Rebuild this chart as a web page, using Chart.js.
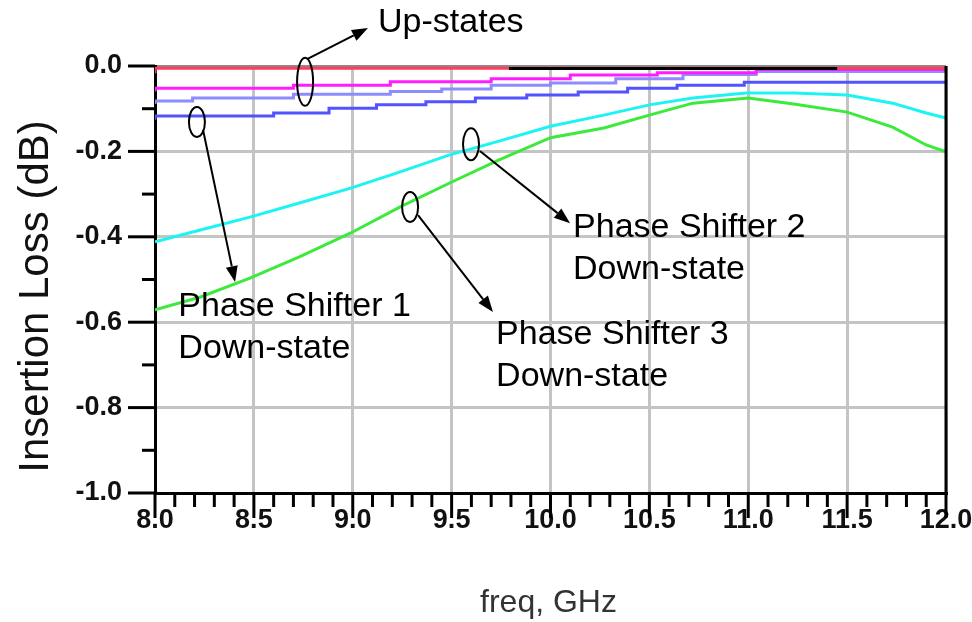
<!DOCTYPE html>
<html>
<head>
<meta charset="utf-8">
<script src="https://cdn.jsdelivr.net/npm/chart.js@4.4.1/dist/chart.umd.min.js"></script>
<style>
  html, body { margin: 0; padding: 0; background: #fff; }
  #wrap { width: 972px; height: 622px; }
</style>
</head>
<body>
<div id="wrap"><canvas id="chart" width="972" height="622"></canvas></div>
<script>
// frequency axis, GHz
const freqMin = 8.0;
const freqMax = 12.0;
// insertion loss axis, dB
const lossMin = -1.0;
const lossMax = 0.0;

// up-states (stepped traces): step start frequency + value
const redFreq = [8.0, 9.79, 12.0];
const redLoss = [-0.017, -0.005, -0.005];
const blackFreq = [9.79, 11.45];
const blackLoss = [-0.006, -0.006];
const magentaFreq = [8.0, 8.70, 9.19, 9.70, 10.10, 10.54, 11.04, 11.68, 12.0];
const magentaLoss = [-0.060, -0.052, -0.045, -0.037, -0.030, -0.021, -0.016, -0.008, -0.008];
const lavenderFreq = [8.0, 8.19, 8.70, 9.19, 9.45, 9.70, 10.0, 10.33, 10.67, 11.04, 11.48, 12.0];
const lavenderLoss = [-0.089, -0.082, -0.075, -0.066, -0.060, -0.054, -0.045, -0.040, -0.030, -0.020, -0.013, -0.013];
const blueFreq = [8.0, 8.60, 8.88, 9.12, 9.37, 9.62, 9.88, 10.14, 10.39, 10.64, 10.98, 11.31, 12.0];
const blueLoss = [-0.126, -0.117, -0.110, -0.099, -0.091, -0.084, -0.075, -0.068, -0.061, -0.052, -0.045, -0.038, -0.038];

// down-states
const cyanFreq = [8.0, 8.23, 8.48, 8.73, 8.99, 9.24, 9.49, 9.74, 10.0, 10.27, 10.5, 10.72, 10.99, 11.23, 11.5, 11.73, 11.9, 12.0];
const cyanLoss = [-0.412, -0.384, -0.354, -0.321, -0.286, -0.248, -0.208, -0.176, -0.141, -0.115, -0.091, -0.075, -0.063, -0.063, -0.068, -0.087, -0.110, -0.122];
const greenFreq = [8.0, 8.23, 8.48, 8.73, 8.99, 9.24, 9.49, 9.74, 10.0, 10.27, 10.5, 10.72, 11.0, 11.23, 11.5, 11.73, 11.9, 12.0];
const greenLoss = [-0.571, -0.541, -0.497, -0.447, -0.391, -0.330, -0.274, -0.220, -0.168, -0.145, -0.115, -0.087, -0.075, -0.089, -0.108, -0.143, -0.185, -0.201];

// annotations, in data units (freq, dB)
const notes = [
  { ellipse: [8.759, -0.037], ry: 24, from: [8.769, 0.016], to: [9.077, 0.089], text: ["Up-states"], at: [9.128, 0.080] },
  { ellipse: [8.212, -0.131], ry: 15, from: [8.243, -0.150], to: [8.405, -0.506], text: ["Phase Shifter 1", "Down-state"], at: [8.118, -0.585] },
  { ellipse: [9.598, -0.183], ry: 16, from: [9.643, -0.199], to: [10.099, -0.368], text: ["Phase Shifter 2", "Down-state"], at: [10.114, -0.400] },
  { ellipse: [9.290, -0.330], ry: 15, from: [9.330, -0.349], to: [9.709, -0.576], text: ["Phase Shifter 3", "Down-state"], at: [9.725, -0.651] },
];

const toPoints = (xs, ys) => xs.map((x, i) => ({ x: x, y: ys[i] }));

const stepSet = (xs, ys, color) => ({
  data: toPoints(xs, ys),
  borderColor: color,
  borderWidth: 3,
  stepped: "after",
  pointRadius: 0,
  fill: false,
});
const curveSet = (xs, ys, color) => ({
  data: toPoints(xs, ys),
  borderColor: color,
  borderWidth: 3,
  tension: 0,
  pointRadius: 0,
  fill: false,
});

const FONT = "'Liberation Sans', Arial, sans-serif";

const drawArrow = (ctx, x1, y1, x2, y2) => {
  const ang = Math.atan2(y2 - y1, x2 - x1);
  const len = 16;
  const half = 6;
  const bx = x2 - len * Math.cos(ang);
  const by = y2 - len * Math.sin(ang);
  ctx.beginPath();
  ctx.moveTo(x1, y1);
  ctx.lineTo(bx, by);
  ctx.stroke();
  ctx.beginPath();
  ctx.moveTo(x2, y2);
  ctx.lineTo(bx - half * Math.sin(ang), by + half * Math.cos(ang));
  ctx.lineTo(bx + half * Math.sin(ang), by - half * Math.cos(ang));
  ctx.closePath();
  ctx.fill();
};

// ticks, frame and labels around the plot
const decorPlugin = {
  id: "decor",
  afterDraw(chart) {
    const ctx = chart.ctx;
    const xs = chart.scales.x;
    const ys = chart.scales.y;
    const area = chart.chartArea;
    ctx.save();

    // right frame
    ctx.strokeStyle = "#000";
    ctx.lineWidth = 3;
    ctx.beginPath();
    ctx.moveTo(area.right, area.top);
    ctx.lineTo(area.right, area.bottom);
    ctx.stroke();

    // y ticks, outward
    for (let i = 0; i <= 10; i += 1) {
      const v = lossMin + i * 0.1;
      const py = ys.getPixelForValue(v);
      const len = i % 2 === 0 ? 27 : 13;
      ctx.beginPath();
      ctx.moveTo(area.left - len, py);
      ctx.lineTo(area.left, py);
      ctx.stroke();
    }
    // x ticks, downward
    for (let i = 0; i <= 40; i += 1) {
      const v = freqMin + i * 0.1;
      const px = xs.getPixelForValue(v);
      const len = i % 5 === 0 ? 25 : 14;
      ctx.beginPath();
      ctx.moveTo(px, area.bottom);
      ctx.lineTo(px, area.bottom + len);
      ctx.stroke();
    }

    // annotations
    ctx.lineWidth = 2;
    ctx.fillStyle = "#000";
    ctx.font = "34px " + FONT;
    ctx.textBaseline = "alphabetic";
    ctx.textAlign = "left";
    for (const n of notes) {
      const ex = xs.getPixelForValue(n.ellipse[0]);
      const ey = ys.getPixelForValue(n.ellipse[1]);
      ctx.beginPath();
      ctx.ellipse(ex, ey, 8, n.ry, 0, 0, Math.PI * 2);
      ctx.stroke();
      drawArrow(ctx,
        xs.getPixelForValue(n.from[0]), ys.getPixelForValue(n.from[1]),
        xs.getPixelForValue(n.to[0]), ys.getPixelForValue(n.to[1]));
      const tx = xs.getPixelForValue(n.at[0]);
      const ty = ys.getPixelForValue(n.at[1]);
      n.text.forEach((t, k) => ctx.fillText(t, tx, ty + k * 42));
    }

    // axis titles
    ctx.fillStyle = "#111";
    ctx.font = "42px " + FONT;
    ctx.textAlign = "center";
    ctx.textBaseline = "middle";
    ctx.save();
    ctx.translate(36, (area.top + area.bottom) / 2 + 17);
    ctx.rotate(-Math.PI / 2);
    ctx.fillText("Insertion Loss (dB)", 0, 0);
    ctx.restore();
    ctx.fillStyle = "#333";
    ctx.font = "32px " + FONT;
    ctx.fillText("freq, GHz", (area.left + area.right) / 2 - 2, 603);

    ctx.restore();
  },
};

new Chart(document.getElementById("chart"), {
  type: "line",
  data: {
    datasets: [
      stepSet(blackFreq, blackLoss, "#000000"),
      stepSet(redFreq, redLoss, "#ff3d5c"),
      stepSet(magentaFreq, magentaLoss, "#ff1cff"),
      stepSet(lavenderFreq, lavenderLoss, "#8c8cff"),
      stepSet(blueFreq, blueLoss, "#5252ff"),
      curveSet(cyanFreq, cyanLoss, "#1cf4f4"),
      curveSet(greenFreq, greenLoss, "#3cea3c"),
    ],
  },
  options: {
    responsive: false,
    animation: false,
    events: [],
    layout: { padding: { top: 66, right: 26, left: 0, bottom: 0 } },
    plugins: { legend: { display: false }, tooltip: { enabled: false } },
    scales: {
      x: {
        type: "linear",
        min: freqMin,
        max: freqMax,
        afterFit: (s) => {
          s.height = 129;
          s.paddingLeft = 0;
          s.paddingRight = 0;
        },
        border: { color: "#000", width: 3 },
        grid: {
          drawTicks: false,
          lineWidth: 3,
          color: (c) => (Math.round(c.tick.value * 10) % 5 === 0 ? "#c4c4c4" : "rgba(0,0,0,0)"),
        },
        ticks: {
          stepSize: 0.1,
          autoSkip: false,
          maxRotation: 0,
          padding: 11,
          color: "#111",
          font: { family: FONT, size: 27, weight: "bold" },
          callback: (v) => (Math.round(v * 10) % 5 === 0 ? Number(v).toFixed(1) : ""),
        },
      },
      y: {
        type: "linear",
        min: lossMin,
        max: lossMax,
        afterFit: (s) => {
          s.width = 155;
          s.paddingTop = 0;
          s.paddingBottom = 0;
        },
        border: { color: "#000", width: 3 },
        grid: {
          drawTicks: false,
          lineWidth: 3,
          color: (c) => {
            const k = Math.round(c.tick.value * 10);
            if (k === 0) return "#8a8a8a";
            return k % 2 === 0 ? "#c4c4c4" : "rgba(0,0,0,0)";
          },
        },
        ticks: {
          stepSize: 0.1,
          autoSkip: false,
          padding: 33,
          color: "#111",
          font: { family: FONT, size: 27, weight: "bold" },
          callback: (v) => (Math.round(v * 10) % 2 === 0 ? Number(v).toFixed(1) : ""),
        },
      },
    },
  },
  plugins: [decorPlugin],
});
</script>
</body>
</html>
